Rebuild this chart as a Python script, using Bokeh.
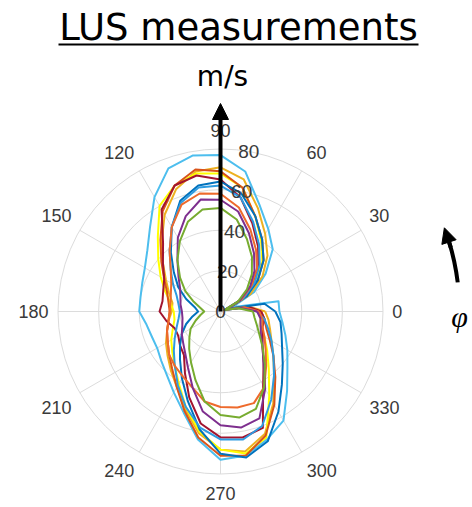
import numpy as np
from bokeh.plotting import figure
from bokeh.models import Arrow, NormalHead, Range1d
from bokeh.core.properties import value
from bokeh.embed import file_html
from bokeh.resources import INLINE

# Polar speed profiles (m/s) sampled every 10 degrees, 0..350
angles_deg = list(range(0, 360, 10))

light_blue = [29, 29, 6, 19, 29, 40, 47, 56, 70, 77, 78, 75, 65, 54, 47, 43, 41, 40,
              40, 37, 36, 36, 38, 41, 46, 53, 64, 73, 72, 67, 62, 51, 43, 38, 34, 31]
yellow = [19, 10, 3, 12, 22, 32, 40, 50, 62, 68, 69, 66, 60, 48, 40, 34, 29, 25,
          23, 23, 25, 28, 31, 35, 41, 50, 60, 68, 71, 66, 48, 37, 30, 25, 21, 20]
gold = [22, 14, 4, 17, 27, 36, 44, 54, 66, 71, 70, 64, 55, 45, 37, 31, 27, 24,
        24, 26, 28, 31, 34, 38, 43, 51, 61, 68, 70, 64, 52, 41, 34, 29, 26, 24]
orange = [20, 12, 3, 14, 24, 33, 41, 50, 62, 69, 71, 66, 57, 46, 38, 32, 28, 26,
          25, 26, 28, 30, 33, 37, 43, 52, 63, 71, 72, 65, 53, 42, 34, 28, 24, 22]
dark_red = [20, 14, 4, 12, 20, 29, 37, 46, 57, 65, 68, 66, 58, 44, 37, 32, 30, 29,
            30, 27, 24, 24, 26, 28, 35, 45, 56, 62, 63, 61, 42, 33, 27, 24, 22, 22]
blue = [27, 22, 4, 15, 24, 33, 41, 50, 59, 64, 63, 58, 48, 38, 30, 24, 18, 13,
        11, 14, 18, 22, 26, 31, 38, 47, 59, 70, 73, 68, 57, 47, 40, 35, 32, 30]
mid_blue = [18, 10, 2, 13, 22, 30, 38, 47, 57, 62, 62, 57, 48, 39, 32, 27, 23, 21,
            20, 21, 23, 26, 30, 35, 42, 50, 58, 63, 64, 60, 50, 41, 34, 29, 25, 22]
orange_red = [19, 12, 3, 12, 20, 28, 35, 43, 52, 58, 59, 56, 48, 39, 32, 28, 26, 25,
              25, 26, 28, 30, 33, 35, 37, 40, 45, 47, 48, 48, 43, 35, 29, 25, 22, 21]
purple = [18, 10, 2, 11, 19, 26, 33, 41, 50, 55, 56, 50, 42, 33, 27, 23, 21, 20,
          19, 19, 20, 22, 24, 27, 32, 40, 50, 56, 58, 56, 44, 33, 27, 23, 21, 20]
green = [16, 9, 2, 10, 17, 24, 31, 38, 46, 51, 51, 47, 40, 33, 26, 20, 14, 10,
         8, 10, 13, 17, 20, 24, 29, 36, 45, 51, 53, 51, 43, 34, 27, 22, 19, 17]

series = [
    (light_blue, "#4DBEEE"),
    (gold, "#EDB120"),
    (yellow, "#FFFF00"),
    (orange, "#D95319"),
    (dark_red, "#A2142F"),
    (blue, "#0072BD"),
    (mid_blue, "#2E9BE0"),
    (orange_red, "#EE6A2C"),
    (purple, "#7E2F8E"),
    (green, "#77AC30"),
]

ring_ticks = [0, 20, 40, 60, 80]
angle_ticks = list(range(0, 360, 30))
r_max = 80

# Page geometry: 472x507, polar centre at pixel (220, 311), r=80 -> 162.5 px
W, H = 472, 507
CX, CY = 220, 311
S = 162.5 / r_max  # pixels per unit


def px(x_pix, y_pix):
    """Convert page pixel position (from top-left) to data coordinates."""
    return (x_pix - CX) / S, (CY - y_pix) / S


p = figure(width=W, height=H, output_backend="svg", toolbar_location=None,
           x_range=Range1d(-CX / S, (W - CX) / S),
           y_range=Range1d(-(H - CY) / S, CY / S),
           min_border=0)
p.axis.visible = False
p.grid.visible = False
p.outline_line_color = None
p.background_fill_color = "white"
p.border_fill_color = "white"

grid_color = "#DCDCDC"

# Angular spokes
th = np.deg2rad(angle_ticks)
p.segment(x0=np.zeros(len(th)), y0=np.zeros(len(th)),
          x1=r_max * np.cos(th), y1=r_max * np.sin(th),
          line_color=grid_color, line_width=1)

# Range rings
p.circle(x=[0] * 4, y=[0] * 4, radius=ring_ticks[1:], fill_color=None,
         line_color=grid_color, line_width=1)

# Speed profiles
for r_vals, color in series:
    a = np.deg2rad(angles_deg + [360])
    r = np.array(r_vals + [r_vals[0]], dtype=float)
    p.line(r * np.cos(a), r * np.sin(a), line_color=color, line_width=2,
           line_join="round")

# Angular tick labels: nearest corner of each label box sits just outside the ring
lab_x, lab_y, lab_t = [], [], []
gap, half_h = 9, 10
for d in angle_ticks:
    t = np.deg2rad(d)
    txt = str(d)
    half_w = len(txt) * 10.3 / 2
    c, s_ = np.cos(t), np.sin(t)
    ox = (162.5 + gap) * c + half_w * (np.sign(c) if abs(c) > 1e-9 else 0)
    oy = (162.5 + gap) * s_ + half_h * (np.sign(s_) if abs(s_) > 1e-9 else 0)
    lab_x.append(ox / S)
    lab_y.append(oy / S)
    lab_t.append(txt)
p.text(x=lab_x, y=lab_y, text=lab_t, text_align="center", text_baseline="middle",
       text_font=value("Liberation Sans"), text_font_size="18px",
       text_color="#3A3A3A")

# Radial tick labels along the 80 degree direction
ra = np.deg2rad(80)
p.text(x=[r * np.cos(ra) for r in ring_ticks], y=[r * np.sin(ra) for r in ring_ticks],
       text=[str(r) for r in ring_ticks], text_align="center", text_baseline="middle",
       text_font=value("Liberation Sans"), text_font_size="19px",
       text_color="#3A3A3A")

# Speed axis arrow
tip = (CY - 103) / S
p.add_layout(Arrow(end=NormalHead(size=16, fill_color="black", line_color="black"),
                   x_start=0, y_start=0, x_end=0, y_end=tip,
                   line_color="black", line_width=4))

# Direction-of-angle arrow (arc around the centre)
R_phi = 239 / S
p.arc(x=0, y=0, radius=R_phi, start_angle=np.deg2rad(7), end_angle=np.deg2rad(17),
      line_color="black", line_width=4)
a0, a1 = np.deg2rad(15.5), np.deg2rad(20.5)
p.add_layout(Arrow(end=NormalHead(size=15, fill_color="black", line_color="black"),
                   x_start=R_phi * np.cos(a0), y_start=R_phi * np.sin(a0),
                   x_end=R_phi * np.cos(a1), y_end=R_phi * np.sin(a1),
                   line_color="black", line_width=4))

# Title with underline
tx, ty = px(238, 27)
p.text(x=[tx], y=[ty], text=["LUS measurements"], text_align="center",
       text_baseline="middle", text_font=value("DejaVu Sans"),
       text_font_size="37px", text_color="black")
ux0, uy = px(58, 44)
ux1, _ = px(418, 44)
p.segment(x0=[ux0], y0=[uy], x1=[ux1], y1=[uy], line_color="black", line_width=2)

# Unit label
mx, my = px(222, 76)
p.text(x=[mx], y=[my], text=["m/s"], text_align="center",
       text_baseline="middle", text_font=value("DejaVu Sans"),
       text_font_size="28px", text_color="black")

# Angle symbol
fx, fy = px(459, 316)
p.text(x=[fx], y=[fy], text=["φ"], text_align="center",
       text_baseline="middle", text_font=value("Liberation Serif"),
       text_font_style="italic", text_font_size="30px", text_color="black")

open("out.html", "w").write(file_html(p, INLINE))
